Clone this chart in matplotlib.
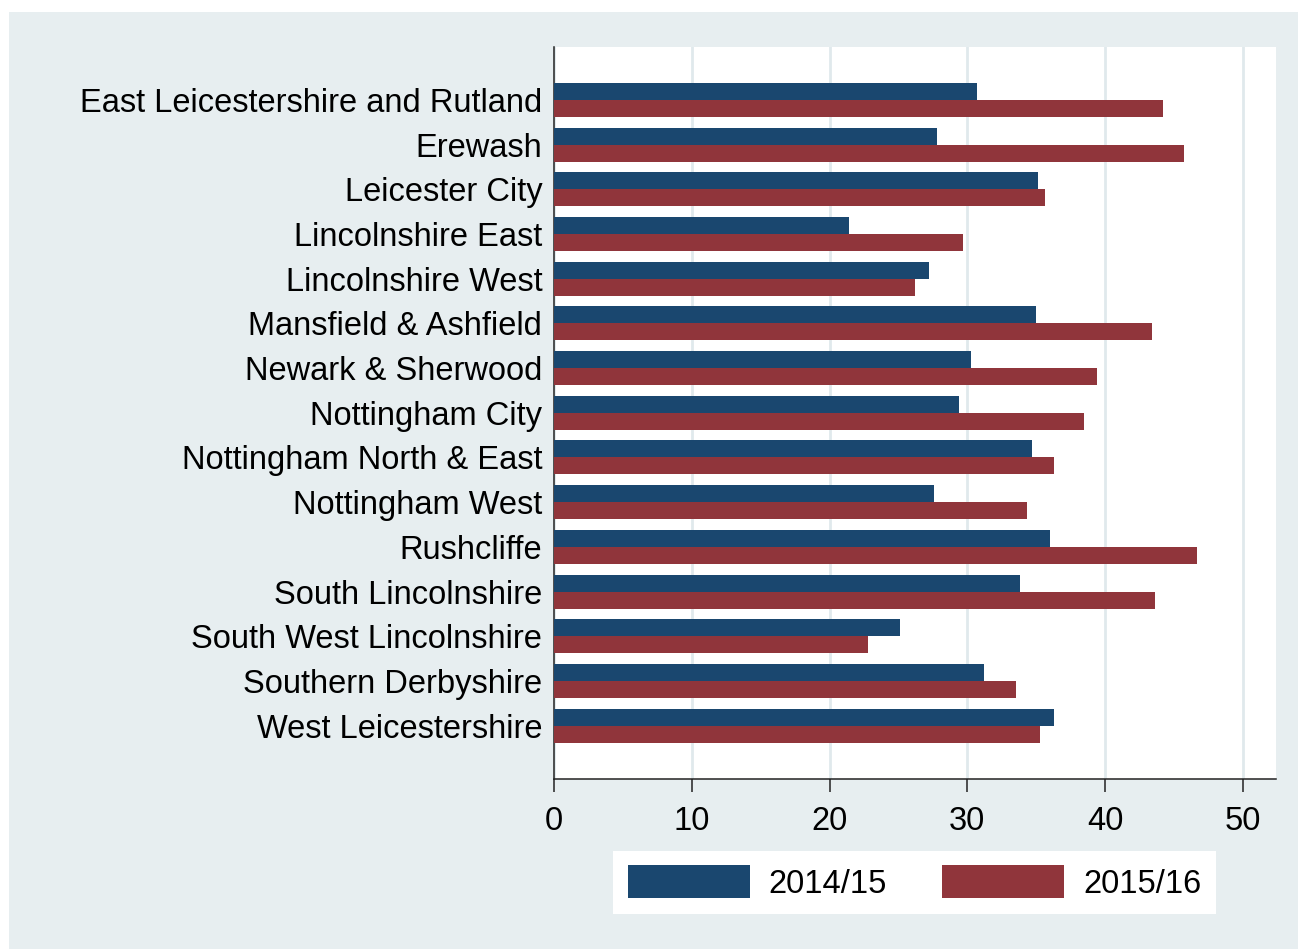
import matplotlib.pyplot as plt
import numpy as np
from matplotlib.patches import Rectangle

areas = [
    "East Leicestershire and Rutland",
    "Erewash",
    "Leicester City",
    "Lincolnshire East",
    "Lincolnshire West",
    "Mansfield & Ashfield",
    "Newark & Sherwood",
    "Nottingham City",
    "Nottingham North & East",
    "Nottingham West",
    "Rushcliffe",
    "South Lincolnshire",
    "South West Lincolnshire",
    "Southern Derbyshire",
    "West Leicestershire",
]
val_1415 = [30.7, 27.8, 35.1, 21.4, 27.2, 35.0, 30.3, 29.4, 34.7, 27.6, 36.0, 33.8, 25.1, 31.2, 36.3]
val_1516 = [44.2, 45.7, 35.6, 29.7, 26.2, 43.4, 39.4, 38.5, 36.3, 34.3, 46.7, 43.6, 22.8, 33.5, 35.3]
years = ["2014/15", "2015/16"]
x_ticks = [0, 10, 20, 30, 40, 50]

BLUE = "#1a476f"
RED = "#90353b"
BG = "#e7eef0"
GRID = "#e0e9ec"

W, H = 1298, 949
plt.rcParams.update({"font.family": ["Liberation Sans", "DejaVu Sans"], "font.size": 23.5})

fig = plt.figure(figsize=(W / 100, H / 100), dpi=100, facecolor="white")
fig.patches.append(Rectangle((9 / W, 0), 1 - 9 / W, 1 - 12 / H, transform=fig.transFigure,
                             facecolor=BG, edgecolor="none", zorder=-5))

ax = fig.add_axes([554 / W, 1 - 779.3 / H, (1276 - 554) / W, (779.3 - 46.7) / H])
ax.set_facecolor("white")

y = np.arange(len(areas))
h = 0.38
ax.barh(y - h / 2, val_1415, height=h, color=BLUE, label=years[0], zorder=3)
ax.barh(y + h / 2, val_1516, height=h, color=RED, label=years[1], zorder=3)

ax.set_ylim(len(areas) - 1 + 1.2, -1.19)
ax.set_xlim(0, 52.4)
ax.set_yticks(y)
ax.set_yticklabels(areas)
ax.set_xticks(x_ticks)
ax.tick_params(axis="y", length=0, pad=8.5)
ax.tick_params(axis="x", length=9, width=1.1, pad=10, color="#222222")

ax.grid(axis="x", color=GRID, linewidth=2, zorder=1)
ax.set_axisbelow(True)
for s in ["top", "right"]:
    ax.spines[s].set_visible(False)
for s in ["left", "bottom"]:
    ax.spines[s].set_color("#222222")
    ax.spines[s].set_linewidth(1.1)

leg = fig.legend(loc="center", bbox_to_anchor=(914.5 / W, 1 - 882.5 / H), ncol=2,
                 frameon=True, fancybox=False, facecolor="white", edgecolor="none",
                 handlelength=3.74, handleheight=1.15, handletextpad=0.58,
                 columnspacing=1.7, borderpad=0.45, framealpha=1)

fig.savefig("out.png", dpi=100, facecolor="white")
